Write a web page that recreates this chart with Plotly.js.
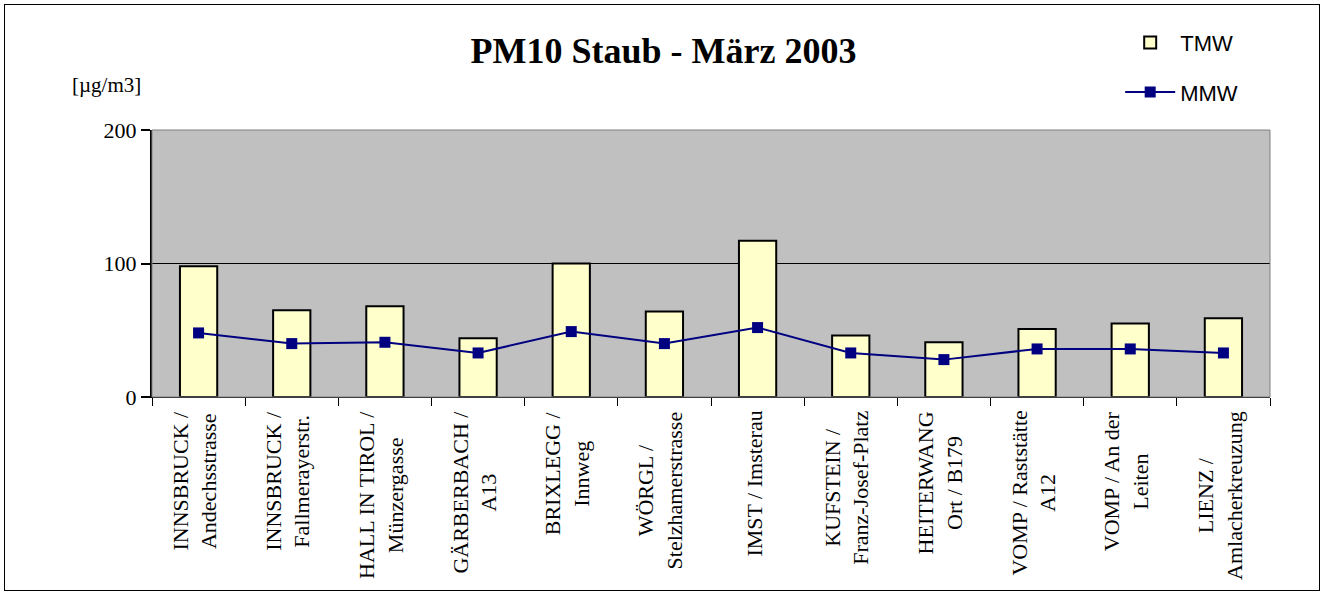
<!DOCTYPE html>
<html>
<head>
<meta charset="utf-8">
<script src="https://cdn.plot.ly/plotly-3.0.1.min.js"></script>
<style>
  html, body { margin: 0; padding: 0; background: #fff; }
  #wrap { position: relative; width: 1327px; height: 594px; }
  #chart { width: 1327px; height: 594px; }
  #frame { position: absolute; left: 4px; top: 4px; width: 1316px; height: 587px;
           border: 1px solid #000; box-sizing: border-box; pointer-events: none; }
</style>
</head>
<body>
<div id="wrap"><div id="chart"></div><div id="frame"></div></div>
<script>
const categories = [
  "INNSBRUCK /<br>Andechsstrasse",
  "INNSBRUCK /<br>Fallmerayerstr.",
  "HALL IN TIROL /<br>Münzergasse",
  "GÄRBERBACH /<br>A13",
  "BRIXLEGG /<br>Innweg",
  "WÖRGL /<br>Stelzhamerstrasse",
  "IMST / Imsterau",
  "KUFSTEIN /<br>Franz-Josef-Platz",
  "HEITERWANG<br>Ort / B179",
  "VOMP / Raststätte<br>A12",
  "VOMP / An der<br>Leiten",
  "LIENZ /<br>Amlacherkreuzung"
];
const tmw = [98, 65, 68, 44, 100, 64, 117, 46, 41, 51, 55, 59];
const mmw = [48, 40, 41, 33, 49, 40, 52, 33, 28, 36, 36, 33];
const yTicks = [0, 100, 200];

const serif = "'Liberation Serif', 'Times New Roman', serif";
const sans = "'Liberation Sans', Arial, sans-serif";

const traces = [
  {
    type: "bar", name: "TMW", x: categories, y: tmw,
    marker: { color: "#FFFFCC", line: { color: "#000000", width: 2 } },
    legendgroup: "a", hoverinfo: "x+y"
  },
  {
    type: "scatter", mode: "lines+markers", name: "MMW", x: categories, y: mmw,
    line: { color: "#000080", width: 2 },
    marker: { symbol: "square", size: 11, color: "#000080" },
    legendgroup: "b"
  }
];

const annotations = categories.map(c => ({
  x: c, xref: "x", y: 0, yref: "paper", yanchor: "top", xanchor: "center",
  yshift: -12, xshift: -4, text: c, textangle: -90, showarrow: false, align: "center",
  font: { family: serif, size: 22, color: "#000" }
}));
annotations.push({
  text: "[µg/m3]", xref: "paper", yref: "paper", x: -0.041, y: 1.168,
  xanchor: "center", yanchor: "middle", showarrow: false,
  font: { family: serif, size: 21, color: "#000" }
});

const layout = {
  width: 1327, height: 594,
  margin: { l: 152, r: 57, t: 130, b: 197 },
  paper_bgcolor: "#FFFFFF",
  plot_bgcolor: "#C0C0C0",
  title: {
    text: "<b>PM10 Staub - März 2003</b>",
    font: { family: serif, size: 36, color: "#000" },
    x: 0.5, xref: "container", xanchor: "center", y: 0.915, yanchor: "middle"
  },
  showlegend: true,
  legend: {
    x: 0.866, xanchor: "left", y: 1.406, yanchor: "top",
    xref: "paper", yref: "paper",
    font: { family: sans, size: 22, color: "#000" },
    bgcolor: "rgba(0,0,0,0)", tracegroupgap: 18, itemwidth: 50
  },
  bargap: 0.6,
  xaxis: {
    type: "category", range: [-0.5, categories.length - 0.5],
    tickson: "boundaries", ticks: "outside", ticklen: 8,
    tickcolor: "#000", tickwidth: 1, showticklabels: false,
    showline: true, linecolor: "#000", linewidth: 1, showgrid: false,
    fixedrange: true
  },
  yaxis: {
    range: [0, 200], tickvals: yTicks, ticktext: yTicks.map(String),
    ticks: "outside", ticklen: 9, tickcolor: "#000", tickwidth: 2,
    showline: true, linecolor: "#000", linewidth: 2,
    showgrid: true, gridcolor: "#000", gridwidth: 1, zeroline: false,
    tickfont: { family: serif, size: 22, color: "#000" },
    fixedrange: true
  },
  shapes: [
    { type: "rect", xref: "paper", yref: "paper", x0: 0, x1: 1, y0: 0, y1: 1,
      line: { color: "#808080", width: 1 }, fillcolor: "rgba(0,0,0,0)", layer: "above" }
  ],
  annotations: annotations
};

Plotly.newPlot("chart", traces, layout, { displayModeBar: false, staticPlot: true });
</script>
</body>
</html>
